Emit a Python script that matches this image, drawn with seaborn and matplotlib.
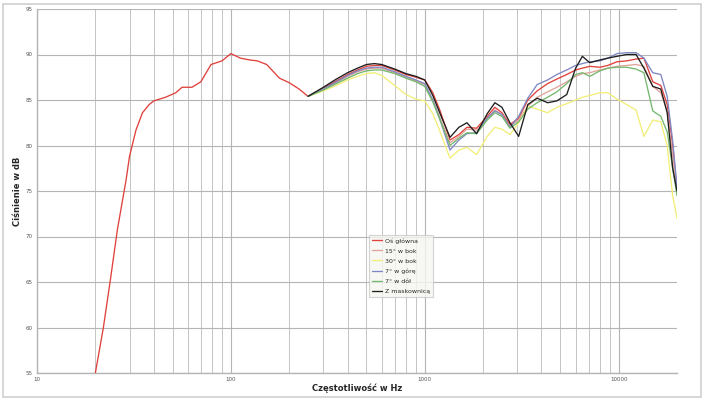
import numpy as np
import pandas as pd
import matplotlib
matplotlib.use("Agg")
import matplotlib.pyplot as plt
from matplotlib.patches import Rectangle
from matplotlib.ticker import LogLocator, NullFormatter
import seaborn as sns

# czestotliwosci - zakres niski (tylko os glowna)
f_nisko = [20, 22, 24, 26, 28.8, 30, 32.4, 35, 37.9, 40, 46, 52, 56, 63, 70, 79, 90,
           100, 112, 125, 137, 153, 178, 200, 225]
os_nisko = [55.0, 60.0, 65.5, 70.8, 76.2, 78.8, 81.7, 83.6, 84.5, 84.9, 85.3, 85.8, 86.4,
            86.4, 87.0, 88.9, 89.3, 90.1, 89.6, 89.4, 89.3, 88.9, 87.4, 86.9, 86.2]

# czestotliwosci - zakres pomiarow katowych
f = [250, 300, 350, 400, 450, 500, 550, 600, 700, 800, 900, 1000, 1100, 1200, 1350,
     1500, 1650, 1850, 2100, 2300, 2500, 2750, 3050, 3400, 3800, 4300, 4800, 5400,
     6000, 6500, 7100, 8000, 8800, 9800, 11000, 12300, 13500, 15000, 16500, 17800,
     19000, 20000]

os_glowna = [85.4, 86.3, 87.1, 87.8, 88.3, 88.7, 88.8, 88.8, 88.3, 87.8, 87.5, 87.2,
             85.8, 83.8, 80.6, 81.2, 82.0, 81.9, 83.2, 84.2, 83.6, 82.3, 83.0, 85.0,
             86.0, 86.8, 87.3, 87.8, 88.3, 88.5, 88.7, 88.6, 88.8, 89.2, 89.3, 89.5,
             89.6, 87.0, 86.6, 84.5, 80.0, 75.0]
bok_15 = [85.4, 86.2, 86.9, 87.6, 88.1, 88.4, 88.5, 88.5, 88.0, 87.5, 87.1, 86.7,
          85.0, 83.0, 80.3, 81.0, 81.8, 81.7, 83.0, 83.9, 83.4, 82.1, 82.8, 84.3,
          85.3, 85.9, 86.4, 87.0, 87.6, 87.9, 88.0, 88.3, 88.5, 88.7, 88.8, 88.9,
          88.7, 86.5, 85.8, 83.8, 79.0, 75.0]
bok_30 = [85.4, 86.0, 86.6, 87.2, 87.6, 87.9, 88.0, 87.7, 86.6, 85.6, 85.1, 84.9,
          83.5, 81.5, 78.6, 79.5, 79.8, 79.0, 81.0, 82.0, 81.8, 81.2, 82.5, 84.3,
          84.0, 83.6, 84.2, 84.6, 85.0, 85.3, 85.5, 85.8, 85.8, 85.1, 84.5, 83.9,
          81.0, 82.8, 82.6, 80.0, 74.5, 72.0]
gora_7 = [85.4, 86.2, 87.0, 87.7, 88.2, 88.5, 88.6, 88.6, 88.1, 87.6, 87.2, 86.8,
          85.0, 82.8, 79.5, 80.6, 81.3, 81.4, 83.0, 83.8, 83.4, 82.0, 83.2, 85.2,
          86.7, 87.2, 87.8, 88.3, 88.8, 89.0, 89.2, 89.3, 89.6, 90.1, 90.2, 90.2,
          89.6, 88.0, 87.8, 85.4, 80.5, 75.5]
dol_7 = [85.4, 86.1, 86.8, 87.4, 87.9, 88.2, 88.3, 88.3, 87.9, 87.4, 87.0, 86.5,
         84.8, 82.8, 80.0, 80.8, 81.4, 81.3, 82.8, 83.6, 83.2, 81.9, 82.6, 84.0,
         84.7, 85.3, 85.9, 86.8, 87.8, 88.0, 87.6, 88.2, 88.5, 88.6, 88.6, 88.4,
         88.0, 83.8, 83.2, 81.5, 77.5, 74.5]
maskownica = [85.4, 86.4, 87.3, 88.0, 88.5, 88.9, 89.0, 88.9, 88.4, 87.9, 87.6, 87.2,
              85.5, 83.5, 80.9, 82.0, 82.5, 81.3, 83.5, 84.7, 84.2, 82.5, 81.0, 84.5,
              85.2, 84.7, 84.9, 85.6, 88.5, 89.8, 89.1, 89.4, 89.6, 89.8, 90.0, 90.0,
              88.5, 86.5, 86.2, 83.6, 77.5, 75.0]

nazwy = ["Oś główna", "15° w bok", "30° w bok", "7° w górę", "7° w dół", "Z maskownicą"]
kolory = ["#e0413c", "#e0a49a", "#f2ee78", "#7f87c4", "#74b86e", "#1e1e1e"]

dane = [pd.DataFrame({"f": f_nisko + f, "dB": os_nisko + os_glowna, "seria": nazwy[0]})]
for nazwa, wart in zip(nazwy[1:], [bok_15, bok_30, gora_7, dol_7, maskownica]):
    dane.append(pd.DataFrame({"f": f, "dB": wart, "seria": nazwa}))
df = pd.concat(dane, ignore_index=True)

sns.set_style("white")
fig = plt.figure(figsize=(7.05, 4.0), dpi=100)
ax = fig.add_axes([37 / 705, 27 / 400, 640 / 705, 364 / 400])

# rysowanie - zolta pod spodem, czarna na wierzchu
kolejnosc = [2, 1, 4, 3, 0, 5]
for i in kolejnosc:
    sns.lineplot(data=df[df["seria"] == nazwy[i]], x="f", y="dB", color=kolory[i],
                 lw=0.95, label=nazwy[i], ax=ax, sort=False, zorder=3 + i)

ax.set_xscale("log")
ax.set_xlim(10, 20000)
ax.set_ylim(55, 95)
ax.set_yticks(np.arange(55, 96, 5))
ax.set_xticks([10, 100, 1000, 10000])
ax.set_xticklabels(["10", "100", "1000", "10000"])
ax.xaxis.set_minor_locator(LogLocator(base=10, subs=np.arange(2, 10)))
ax.xaxis.set_minor_formatter(NullFormatter())
ax.tick_params(axis="both", which="both", length=0, labelsize=4, colors="#555555", pad=3)
ax.grid(True, which="major", color="#b4b4b4", lw=0.8)
ax.grid(True, which="minor", axis="x", color="#c4c4c4", lw=0.7)
for s in ["top", "right"]:
    ax.spines[s].set_visible(False)
for s in ["left", "bottom"]:
    ax.spines[s].set_color("#b4b4b4")
    ax.spines[s].set_linewidth(1.0)

ax.set_xlabel("Częstotliwość w Hz", fontsize=6, fontweight="bold", labelpad=1)
ax.set_ylabel("Ciśnienie w dB", fontsize=6, fontweight="bold", labelpad=3)

uchwyty, etykiety = ax.get_legend_handles_labels()
mapa = dict(zip(etykiety, uchwyty))
leg = ax.legend([mapa[n] for n in nazwy], nazwy, loc="lower left",
                bbox_to_anchor=(0.514, 0.2), fontsize=4.5, frameon=True, fancybox=False,
                handlelength=1.6, handletextpad=0.4, labelspacing=0.75, borderpad=0.5)
leg.get_frame().set_edgecolor("#c8c8c8")
leg.get_frame().set_facecolor("#f6f6f2")
leg.get_frame().set_linewidth(0.8)
leg.set_zorder(20)

fig.patches.append(Rectangle((3 / 705, 3 / 400), 698 / 705, 393 / 400, transform=fig.transFigure,
                             fill=False, edgecolor="#cfcfcf", lw=1.2))

fig.savefig("out.png", dpi=100, facecolor="white")
